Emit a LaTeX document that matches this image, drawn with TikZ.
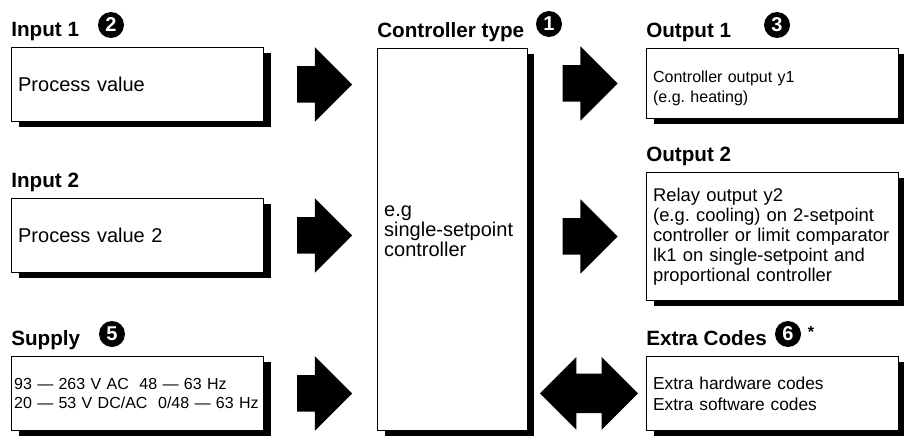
\documentclass[tikz,border=0pt]{standalone}
\usepackage{fontspec}
\setmainfont{Liberation Sans}
\frenchspacing
\usetikzlibrary{positioning,shapes.arrows,shadows}
\tikzset{
  box/.style={draw=black, line width=0.7pt, fill=white, anchor=north west,
    align=left, inner xsep=5pt, inner ysep=2pt, text width=179pt,
    drop shadow={shadow xshift=5.5pt, shadow yshift=-4.5pt, fill=black, opacity=1}},
  title/.style={anchor=base west, inner sep=0pt, font=\bfseries\fontsize{15.5}{18}\selectfont},
  badge/.style={circle, fill=black, text=white, inner sep=0pt, minimum size=19.5pt,
    font=\bfseries\fontsize{15}{15}\selectfont},
  rarr/.style={single arrow, fill=black, inner xsep=0pt, inner ysep=13.5pt,
    minimum height=41.25pt, single arrow head extend=14.25pt},
  darr/.style={double arrow, fill=black, inner xsep=0pt, inner ysep=14.6pt,
    minimum height=73.5pt, double arrow head extend=12.4pt}
}
\begin{document}
\begin{tikzpicture}[x=0.75pt, y=-0.75pt, font=\fontsize{15}{18}\selectfont]
  \useasboundingbox (0,0) rectangle (904,436);
  % inputs
  \node[box, minimum height=55.5pt] (in1) at (11,47) {Process value};
  \node[box, minimum height=55.5pt] (in2) at (11,198) {Process value 2};
  \node[box, minimum height=55.5pt, inner xsep=2pt, text width=185pt,
    font=\fontsize{12}{14}\selectfont] (sup) at (11,356)
    {93 — 263 V AC\ \ 48 — 63 Hz\\20 — 53 V DC/AC\ \ 0/48 — 63 Hz};
  % controller
  \node[box, minimum height=286.5pt, text width=102.25pt,
    font=\fontsize{15}{15}\selectfont] (ctl) at (377,48)
    {e.g\\single-setpoint\\controller\rule[-12pt]{0pt}{12pt}};
  % outputs
  \node[box, minimum height=52.5pt, font=\fontsize{12}{15}\selectfont] (out1) at (646,48)
    {\rule{0pt}{16pt}Controller output y1\\(e.g. heating)};
  \node[box, minimum height=96pt, font=\fontsize{13.8}{15}\selectfont] (out2) at (646,172)
    {Relay output y2\\(e.g. cooling) on 2-setpoint\\controller or limit comparator\\lk1 on single-setpoint and\\proportional controller};
  \node[box, minimum height=55.5pt, font=\fontsize{13}{16}\selectfont] (xtra) at (646,356)
    {Extra hardware codes\\Extra software codes};
  % titles
  \node[title] (tin1) at ([yshift=8.25pt]in1.north west) {Input 1};
  \node[title] (tin2) at ([yshift=8.25pt]in2.north west) {Input 2};
  \node[title] (tsup) at ([yshift=8.25pt]sup.north west) {Supply};
  \node[title] (tctl) at ([yshift=8.25pt]ctl.north west) {Controller type};
  \node[title] (tout1) at ([yshift=8.25pt]out1.north west) {Output 1};
  \node[title] (tout2) at ([yshift=8.25pt]out2.north west) {Output 2};
  \node[title] (txtra) at ([yshift=8.25pt]xtra.north west) {Extra Codes};
  \node[badge] (n1) at (549,24) {1};
  \node[badge] (n2) at (111,25) {2};
  \node[badge] (n3) at (777,25) {3};
  \node[badge] (n5) at (112,334) {5};
  \node[badge] (n6) at (788,334) {6};
  \node[font=\bfseries\fontsize{12}{12}\selectfont] (ast) at (811,332) {*};
  % block arrows
  \node[rarr, anchor=tail] (a1) at ([xshift=24.75pt]in1.east) {};
  \node[rarr, anchor=tail] (a2) at ([xshift=24.75pt]in2.east) {};
  \node[rarr, anchor=tail] (a3) at ([xshift=24.75pt]sup.east) {};
  \node[rarr, anchor=tip] (a4) at ([xshift=-21pt]out1.west) {};
  \node[rarr, anchor=tip] (a5) at ([xshift=-21pt]out2.west) {};
  \node[darr] (a6) at ([xshift=-42.75pt]xtra.west) {};
\end{tikzpicture}
\end{document}
